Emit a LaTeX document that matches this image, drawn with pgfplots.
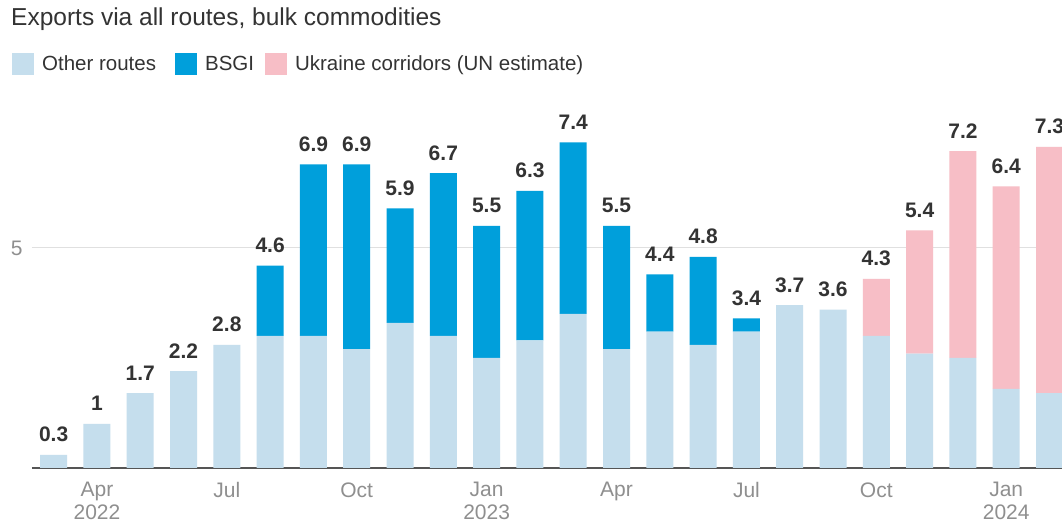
\documentclass[border=0pt]{standalone}
\usepackage{fontspec}
\setmainfont{Liberation Sans}
\usepackage{pgfplots}
\pgfplotsset{compat=1.18}
\definecolor{otherc}{HTML}{C5DEED}
\definecolor{bsgic}{HTML}{009FDB}
\definecolor{ukrc}{HTML}{F7BEC6}
\definecolor{txt}{HTML}{333333}
\definecolor{tickc}{HTML}{8F8F8F}
\definecolor{gridc}{HTML}{E0E0E0}
\definecolor{axisc}{HTML}{555555}
\begin{document}
\begin{tikzpicture}
\useasboundingbox (0,0) rectangle (1062pt,526pt);
\fill[white] (0,0) rectangle (1062pt,526pt);
\begin{axis}[
  at={(32pt,58pt)}, anchor=south west,
  scale only axis, width=1043.5pt, height=396pt,
  xmin=-0.5, xmax=23.6, ymin=0, ymax=9,
  enlargelimits=false,
  ybar stacked, bar width=27pt,
  axis x line*=bottom, axis y line*=left,
  y axis line style={draw=none},
  x axis line style={-, axisc, line width=2pt},
  major tick length=0pt,
  /pgf/number format/assume math mode=true,
  ytick={5}, ymajorgrids, grid style={gridc, line width=1pt},
  xtick={1,4,7,10,13,16,19,22},
  xticklabels={Apr\\2022,Jul,Oct,Jan\\2023,Apr,Jul,Oct,Jan\\2024},
  xticklabel style={align=center, font=\fontsize{21}{23}\selectfont, text=tickc, yshift=-11pt},
  yticklabel style={font=\fontsize{21}{22}\selectfont, text=tickc, xshift=-6pt},
  legend columns=3,
  legend style={at={(-0.0192,1.02)}, anchor=west, draw=none, fill=none, inner sep=0pt,
    font=\fontsize{20.5}{24}\selectfont, text=txt,
    /tikz/every odd column/.append style={column sep=6pt},
    /tikz/every even column/.append style={column sep=17pt}},
  legend image code/.code={\fill[#1] (0pt,-11pt) rectangle (22pt,11pt);},
]
\addplot[fill=otherc, draw=none] coordinates {
(0,0.3)(1,1)(2,1.7)(3,2.2)(4,2.8)(5,3.0)(6,3.0)(7,2.7)(8,3.3)(9,3.0)(10,2.5)(11,2.9)
(12,3.5)(13,2.7)(14,3.1)(15,2.8)(16,3.1)(17,3.7)(18,3.6)(19,3.0)(20,2.6)(21,2.5)(22,1.8)(23,1.7)};
\addlegendentry{Other routes}
\addplot[fill=bsgic, draw=none] coordinates {
(0,0)(1,0)(2,0)(3,0)(4,0)(5,1.6)(6,3.9)(7,4.2)(8,2.6)(9,3.7)(10,3.0)(11,3.4)
(12,3.9)(13,2.8)(14,1.3)(15,2.0)(16,0.3)(17,0)(18,0)(19,0)(20,0)(21,0)(22,0)(23,0)};
\addlegendentry{BSGI\kern-8pt}
\addplot[fill=ukrc, draw=none] coordinates {
(0,0)(1,0)(2,0)(3,0)(4,0)(5,0)(6,0)(7,0)(8,0)(9,0)(10,0)(11,0)
(12,0)(13,0)(14,0)(15,0)(16,0)(17,0)(18,0)(19,1.3)(20,2.8)(21,4.7)(22,4.6)(23,5.6)};
\addlegendentry{Ukraine corridors (UN estimate)}
\end{axis}
\begin{axis}[
  at={(32pt,58pt)}, anchor=south west,
  scale only axis, width=1043.5pt, height=396pt,
  xmin=-0.5, xmax=23.6, ymin=0, ymax=9,
  enlargelimits=false, hide axis, clip=false,
]
\addplot[draw=none, mark=none, point meta=explicit symbolic,
  nodes near coords,
  nodes near coords style={anchor=base, yshift=13pt, inner sep=0pt,
    font=\fontsize{21}{22}\selectfont\bfseries, text=txt}] coordinates {
(0,0.3)[0.3](1,1)[1](2,1.7)[1.7](3,2.2)[2.2](4,2.8)[2.8](5,4.6)[4.6](6,6.9)[6.9](7,6.9)[6.9]
(8,5.9)[5.9](9,6.7)[6.7](10,5.5)[5.5](11,6.3)[6.3](12,7.4)[7.4](13,5.5)[5.5](14,4.4)[4.4](15,4.8)[4.8]
(16,3.4)[3.4](17,3.7)[3.7](18,3.6)[3.6](19,4.3)[4.3](20,5.4)[5.4](21,7.2)[7.2](22,6.4)[6.4](23,7.3)[7.3]};
\end{axis}
\node[anchor=base west, font=\fontsize{24.5}{28}\selectfont, text=txt, inner sep=0pt] at (11pt,500pt) {Exports via all routes, bulk commodities};
\end{tikzpicture}
\end{document}
